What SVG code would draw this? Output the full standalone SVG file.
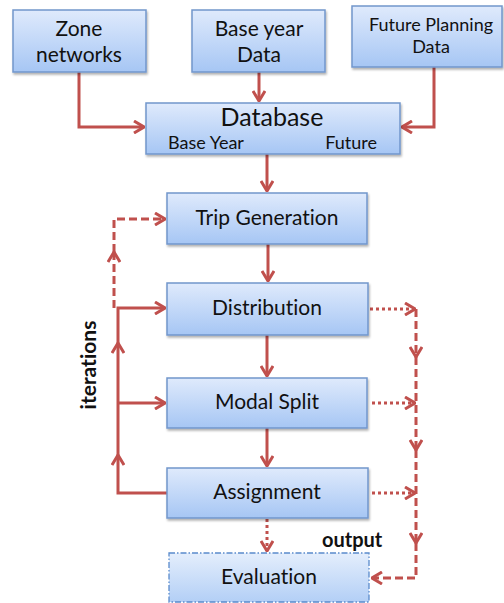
<svg xmlns="http://www.w3.org/2000/svg" width="504" height="603" viewBox="0 0 504 603">
<style>
.box{fill:url(#g);stroke:#7196cc;stroke-width:1.5;filter:url(#sh)}
.eval{fill:url(#g2);stroke:#5a8bcc;stroke-width:1.3;stroke-dasharray:6 2 1.5 2}
.t{font-family:Lato,"Liberation Sans",sans-serif;fill:#111;text-anchor:middle;font-variant-ligatures:none}
.c{fill:none;stroke:#c0504d;stroke-width:3}
.dash{stroke-dasharray:8 4}
.dot{stroke-dasharray:3 3}
.b{font-family:Lato,"Liberation Sans",sans-serif;font-weight:bold;fill:#111;font-variant-ligatures:none}
</style>
<defs>
<linearGradient id="g" x1="0" y1="0" x2="0" y2="1">
<stop offset="0" stop-color="#dfeafc"/>
<stop offset="1" stop-color="#a6c6f4"/>
</linearGradient>
<linearGradient id="g2" x1="0" y1="0" x2="0" y2="1">
<stop offset="0" stop-color="#e4eefc"/>
<stop offset="1" stop-color="#b3cff6"/>
</linearGradient>
<filter id="sh" x="-10%" y="-10%" width="120%" height="130%">
<feDropShadow dx="1" dy="2" stdDeviation="1.2" flood-color="#000" flood-opacity="0.3"/>
</filter>
<marker id="a" viewBox="0 0 12 14" refX="11" refY="7" markerWidth="12" markerHeight="14" markerUnits="userSpaceOnUse" orient="auto">
<path d="M1,1 L11,7 L1,13" fill="none" stroke="#c0504d" stroke-width="3" stroke-linejoin="miter"/>
</marker>
</defs>
<g id="connectors">
<path class="c" d="M79,72 V127 H144" marker-end="url(#a)"/>
<path class="c" d="M259,72 V101" marker-end="url(#a)"/>
<path class="c" d="M434,67 V127 H402" marker-end="url(#a)"/>
<path class="c" d="M267,154 V191" marker-end="url(#a)"/>
<path class="c" d="M268,244 V281" marker-end="url(#a)"/>
<path class="c" d="M267,335 V376" marker-end="url(#a)"/>
<path class="c" d="M267,428 V466" marker-end="url(#a)"/>
<path class="c dot" d="M267,519 V551" marker-end="url(#a)"/>
<path class="c" d="M167,493 H118 V455" marker-end="url(#a)"/>
<path class="c" d="M118,455 V343" marker-end="url(#a)"/>
<path class="c" d="M118,343 V308 H165" marker-end="url(#a)"/>
<path class="c" d="M118,403 H165" marker-end="url(#a)"/>
<path class="c dash" d="M114,308 V252" marker-end="url(#a)"/>
<path class="c dash" d="M114,252 V219 H165" marker-end="url(#a)"/>
<path class="c dot" d="M370,309 H415" marker-end="url(#a)"/>
<path class="c dot" d="M372,403 H415" marker-end="url(#a)"/>
<path class="c dot" d="M372,493 H415" marker-end="url(#a)"/>
<path class="c dash" d="M416,309 V357" marker-end="url(#a)"/>
<path class="c dash" d="M416,357 V450" marker-end="url(#a)"/>
<path class="c dash" d="M416,450 V543" marker-end="url(#a)"/>
<path class="c dash" d="M416,543 V578 H372" marker-end="url(#a)"/>
</g>
<g id="zone">
<rect class="box" x="13" y="10" width="133" height="62"/>
<text class="t" x="79" y="36" font-size="21">Zone</text>
<text class="t" x="79" y="62" font-size="21">networks</text>
</g>
<g id="baseyear">
<rect class="box" x="192" y="10" width="133" height="62"/>
<text class="t" x="259" y="36" font-size="21">Base year</text>
<text class="t" x="259" y="62" font-size="21">Data</text>
</g>
<g id="future">
<rect class="box" x="352" y="6" width="150" height="61"/>
<text class="t" x="431" y="31" font-size="18">Future Planning</text>
<text class="t" x="431" y="53" font-size="18">Data</text>
</g>
<g id="database">
<rect class="box" x="146" y="103" width="254" height="51"/>
<text class="t" x="272" y="126" font-size="25">Database</text>
<text class="t" x="168" y="149" font-size="18" style="text-anchor:start">Base Year</text>
<text class="t" x="377" y="149" font-size="18" style="text-anchor:end">Future</text>
</g>
<g id="trip">
<rect class="box" x="167" y="193" width="200" height="51"/>
<text class="t" x="267" y="225" font-size="21">Trip Generation</text>
</g>
<g id="distribution">
<rect class="box" x="167" y="283" width="201" height="52"/>
<text class="t" x="267" y="315" font-size="21">Distribution</text>
</g>
<g id="modal">
<rect class="box" x="167" y="378" width="200" height="50"/>
<text class="t" x="267" y="409" font-size="21">Modal Split</text>
</g>
<g id="assignment">
<rect class="box" x="167" y="468" width="201" height="50"/>
<text class="t" x="267" y="499" font-size="21">Assignment</text>
</g>
<g id="evaluation">
<rect class="eval" x="169" y="553" width="200" height="49"/>
<text class="t" x="269" y="584" font-size="21">Evaluation</text>
</g>
<text class="b" x="322" y="547" font-size="20">output</text>
<text class="b" x="0" y="0" font-size="21" text-anchor="middle" transform="translate(96,365) rotate(-90)">iterations</text>
</svg>
